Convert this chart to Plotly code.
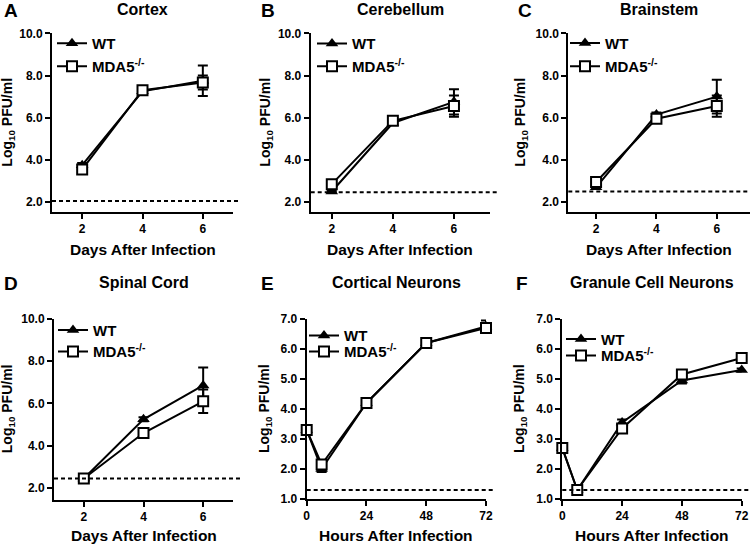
import plotly.graph_objects as go

W, H = 750, 546

# ---------------- data ----------------
days = [2, 4, 6]
hours = [0, 6, 24, 48, 72]

panel_letters = ["A", "B", "C", "D", "E", "F"]
panel_titles = ["Cortex", "Cerebellum", "Brainstem", "Spinal Cord",
                "Cortical Neurons", "Granule Cell Neurons"]
x_titles = ["Days After Infection"] * 4 + ["Hours After Infection"] * 2
series_names = ["WT", "MDA5<sup>-/-</sup>"]

wt_cortex = [3.75, 7.25, 7.75]
wt_cortex_err = [0.1, 0.1, 0.72]
mda5_cortex = [3.55, 7.3, 7.67]
mda5_cortex_err = [0.1, 0.1, 0.33]

wt_cerebellum = [2.5, 5.75, 6.75]
wt_cerebellum_err = [0.05, 0.1, 0.6]
mda5_cerebellum = [2.85, 5.85, 6.55]
mda5_cerebellum_err = [0.1, 0.1, 0.5]

wt_brainstem = [2.7, 6.15, 7.0]
wt_brainstem_err = [0.05, 0.1, 0.8]
mda5_brainstem = [2.95, 5.95, 6.55]
mda5_brainstem_err = [0.1, 0.1, 0.5]

wt_spinal = [2.45, 5.25, 6.85]
wt_spinal_err = [0.05, 0.1, 0.85]
mda5_spinal = [2.45, 4.6, 6.1]
mda5_spinal_err = [0.05, 0.15, 0.55]

wt_cortical = [3.3, 2.0, 4.2, 6.2, 6.75]
wt_cortical_err = [0.05, 0.1, 0.1, 0.1, 0.2]
mda5_cortical = [3.3, 2.15, 4.2, 6.2, 6.7]
mda5_cortical_err = [0.05, 0.1, 0.1, 0.05, 0.1]

wt_granule = [2.7, 1.3, 3.55, 4.95, 5.3]
wt_granule_err = [0.05, 0.05, 0.1, 0.1, 0.05]
mda5_granule = [2.7, 1.3, 3.35, 5.15, 5.7]
mda5_granule_err = [0.05, 0.05, 0.1, 0.12, 0.05]

detection_limits = [2.05, 2.47, 2.5, 2.45, 1.3, 1.3]

day_ticks = [2, 4, 6]
hour_ticks = [0, 24, 48, 72]
tissue_yticks = [2, 4, 6, 8, 10]
culture_yticks = [1, 2, 3, 4, 5, 6, 7]

# ---------------- layout geometry (pixels) ----------------
# plot boxes: (x_left, x_right, y_top, y_bottom)
boxes = [
    (52, 233, 33.3, 212),
    (310.7, 490, 33.3, 212),
    (568.3, 750, 33.3, 212),
    (54, 233, 318.7, 499.7),
    (306.7, 486, 319, 499),
    (562.3, 741.7, 319, 499),
]
xranges = [[1, 7], [1.31, 7.18], [1.08, 7.1], [1, 7], [0, 72], [0, 72]]
yranges = [[1.53, 10], [1.53, 10], [1.53, 10], [1.45, 10], [1, 7], [1, 7]]

# legend marker x and row centres (WT, MDA5)
legend_marker_x = [70, 330, 583, 71, 322, 579]
legend_rows = [(43, 66), (43.3, 66), (42.7, 66), (329.7, 351.3), (335.3, 351.3), (338.7, 355.3)]
letter_x = [2, 259, 516, 2, 259, 514]
ytitle_x = [8, 266, 521, 8, 265, 520]

series = [
    (days, wt_cortex, wt_cortex_err, mda5_cortex, mda5_cortex_err),
    (days, wt_cerebellum, wt_cerebellum_err, mda5_cerebellum, mda5_cerebellum_err),
    (days, wt_brainstem, wt_brainstem_err, mda5_brainstem, mda5_brainstem_err),
    (days, wt_spinal, wt_spinal_err, mda5_spinal, mda5_spinal_err),
    (hours, wt_cortical, wt_cortical_err, mda5_cortical, mda5_cortical_err),
    (hours, wt_granule, wt_granule_err, mda5_granule, mda5_granule_err),
]

FONT = "Arial, Liberation Sans, sans-serif"


def px(x):
    return x / W


def py(y):
    return 1 - y / H


fig = go.Figure()
layout = dict(
    template="none",
    width=W, height=H,
    margin=dict(l=0, r=0, t=0, b=0, pad=0, autoexpand=False),
    paper_bgcolor="white", plot_bgcolor="white",
    font=dict(family=FONT, color="black"),
    showlegend=True,
    shapes=[], annotations=[],
)

styles = [
    dict(symbol="triangle-up", size=11, color="black"),
    dict(symbol="square", size=10, color="white", line=dict(color="black", width=2)),
]

for i in range(6):
    n = "" if i == 0 else str(i + 1)
    xa, ya = "x" + n, "y" + n
    xl, xr, yt, yb = boxes[i]
    xs, wt, wte, md, mde = series[i]

    for k, (vals, errs) in enumerate([(wt, wte), (md, mde)]):
        li = 2 * i + k + 1
        leg = "legend" if li == 1 else "legend" + str(li)
        fig.add_trace(go.Scatter(
            x=xs, y=vals, xaxis=xa, yaxis=ya, name=series_names[k], legend=leg,
            mode="lines+markers",
            line=dict(color="black", width=2),
            marker=styles[k],
            error_y=dict(type="data", array=errs, color="black", thickness=2, width=5),
            cliponaxis=False,
        ))
        layout[leg] = dict(
            x=px(legend_marker_x[i] - 18), y=py(legend_rows[i][k] - 16),
            xanchor="left", yanchor="top",
            bgcolor="rgba(0,0,0,0)", borderwidth=0,
            font=dict(family=FONT, size=15, color="black", weight="bold"),
            itemwidth=30,
        )

    is_hours = i >= 4
    axis_common = dict(
        showline=True, linecolor="black", linewidth=2,
        ticks="outside", ticklen=5, tickwidth=2, tickcolor="black",
        showgrid=False, zeroline=False, automargin=False,
        tickfont=dict(family=FONT, size=12, color="black", weight="bold"),
    )
    layout["xaxis" + n] = dict(
        axis_common,
        domain=[px(xl), px(xr)], anchor=ya, range=xranges[i],
        tickvals=hour_ticks if is_hours else day_ticks,
    )
    layout["yaxis" + n] = dict(
        axis_common,
        domain=[py(yb), py(yt)], anchor=xa, range=yranges[i],
        tickvals=culture_yticks if is_hours else tissue_yticks,
        tickformat=".1f",
    )

    # detection limit
    layout["shapes"].append(dict(
        type="line", xref=xa + " domain", yref=ya,
        x0=0, x1=1.04, y0=detection_limits[i], y1=detection_limits[i],
        line=dict(color="black", width=2, dash="4px,3px"),
    ))

    cx = (xl + xr) / 2
    row_top = 0 if i < 3 else 273
    layout["annotations"].append(dict(
        text=panel_titles[i], xref="paper", yref="paper",
        x=px(cx), y=py(row_top + 9), xanchor="center", yanchor="middle",
        showarrow=False, font=dict(family=FONT, size=16, weight="bold"),
    ))
    layout["annotations"].append(dict(
        text=panel_letters[i], xref="paper", yref="paper",
        x=px(letter_x[i]), y=py(row_top + 10), xanchor="left", yanchor="middle",
        showarrow=False, font=dict(family=FONT, size=19, weight="bold"),
    ))
    layout["annotations"].append(dict(
        text=x_titles[i], xref="paper", yref="paper",
        x=px(cx), y=py(row_top + (250 if i < 3 else 262)),
        xanchor="center", yanchor="middle",
        showarrow=False, font=dict(family=FONT, size=15.5, weight="bold"),
    ))
    layout["annotations"].append(dict(
        text="Log<sub>10</sub> PFU/ml", xref="paper", yref="paper",
        x=px(ytitle_x[i]), y=py((yt + yb) / 2), xanchor="center", yanchor="middle",
        textangle=-90,
        showarrow=False, font=dict(family=FONT, size=14, weight="bold"),
    ))

fig.update_layout(**layout)
fig.write_html(
    "out.html",
    config={"displayModeBar": False, "staticPlot": True},
    post_script="document.body.style.margin='0px';document.body.style.padding='0px';"
                "document.body.style.overflow='hidden';",
)
